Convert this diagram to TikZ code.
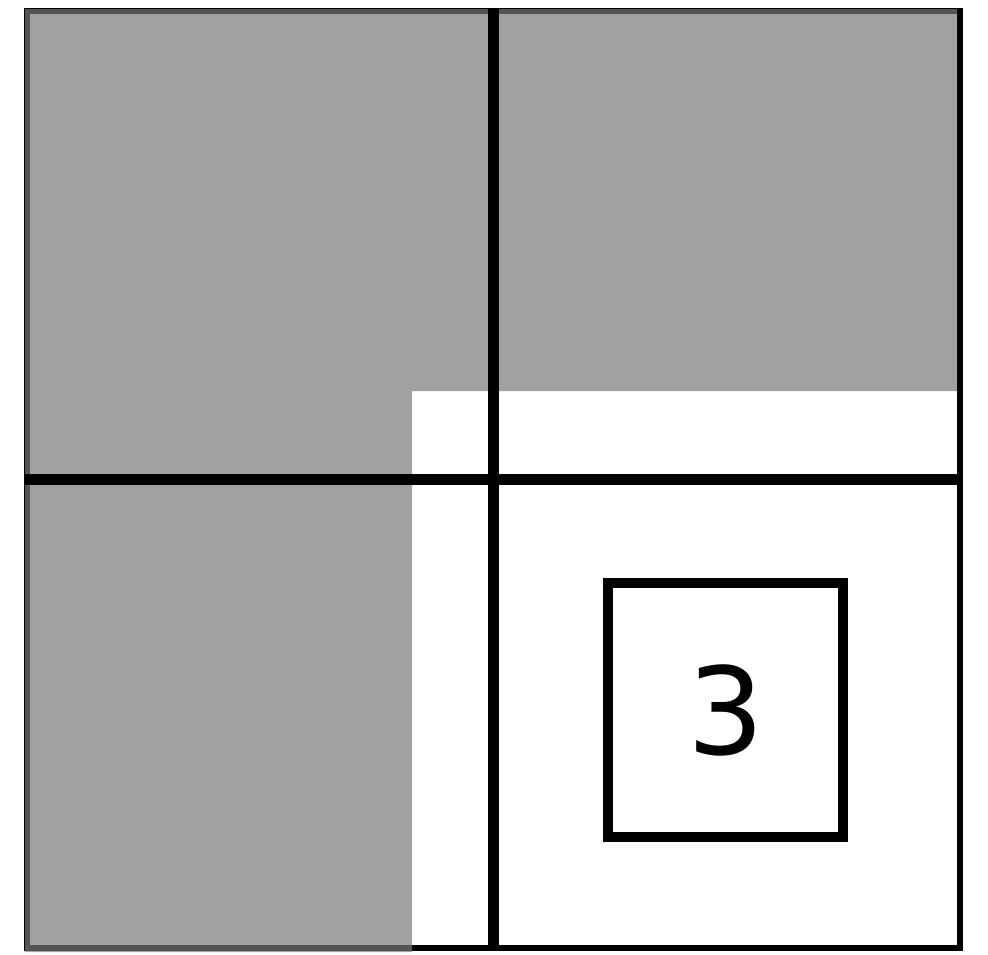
\documentclass[tikz,border=0pt]{standalone}
\usepackage{fontspec}
\newfontfamily\digitfont{DejaVu Sans}
\definecolor{shadegray}{RGB}{121,121,121}
\begin{document}
\begin{tikzpicture}[x=1pt,y=-1pt,
  frame/.style={draw=black,line width=6pt},
  shade/.style={fill=shadegray,fill opacity=0.7},
  divider/.style={draw=black,line width=11pt},
  cellbox/.style={draw=black,line width=10pt,inner sep=0pt,minimum width=235pt,minimum height=254pt},
  digit/.style={font=\digitfont\fontsize{121}{121}\selectfont,inner sep=0pt}]
\useasboundingbox (0,0) rectangle (988,954);
% outer frame
\coordinate (tl) at (27,11);
\coordinate (br) at (960,948);
\path[frame] (tl) rectangle (br);
% shaded L-shaped region
\path[shade] (25,9) -- (957,9) -- (957,391) -- (412,391) -- (412,952) -- (25,952) -- cycle;
% dividing lines
\coordinate (vtop) at (493.5,8);
\coordinate (vbot) at (493.5,951);
\coordinate (hleft) at (25,479);
\coordinate (hright) at (963,479);
\path[divider] (vtop) -- (vbot);
\path[divider] (hleft) -- (hright);
% inner box with digit
\node[cellbox] (box) at (725.5,710) {};
\node[digit] (three) at (box.center) {3};
\end{tikzpicture}
\end{document}
